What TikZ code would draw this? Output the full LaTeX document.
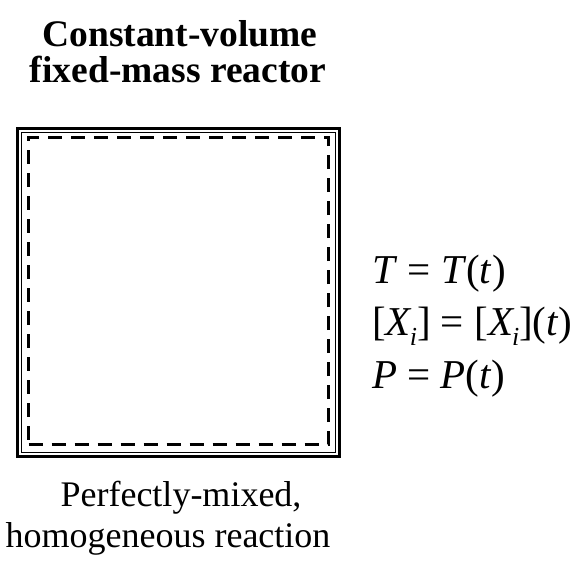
\documentclass[tikz,border=0pt]{standalone}
\usepackage{fontspec}
\setmainfont{Liberation Serif}
\begin{document}
\begin{tikzpicture}[x=1pt,y=-1pt,
  ttl/.style={inner sep=0pt,anchor=base,font=\bfseries\fontsize{37.5}{40}\selectfont},
  txt/.style={inner sep=0pt,anchor=base,font=\fontsize{36}{40}\selectfont},
  eq/.style={inner sep=0pt,anchor=base west,font=\fontsize{41}{44}\selectfont},
  wall/.style={draw,inner sep=0pt}]
\useasboundingbox (0,0) rectangle (581,563);
\node[wall,line width=3pt,minimum width=322pt,minimum height=328pt] (outer) at (178.5,292.5) {};
\node[wall,line width=1.3pt,minimum width=314pt,minimum height=320pt] (wallin) at (178.5,292.5) {};
\node[wall,line width=3pt,dash pattern=on 14pt off 9pt,minimum width=300pt,minimum height=307pt] (inner) at (178.5,290.5) {};
\node[ttl] (title1) at (180,46) {Constant-volume};
\node[ttl] (title2) at (178,82) {fixed-mass reactor};
\node[txt] (cap1) at (181,506) {Perfectly-mixed,};
\node[txt] (cap2) at (168,547) {homogeneous reaction};
\node[eq] (e1) at (372,283) {\textit{T} = \textit{T}(\textit{t})};
\node[eq] (e2) at (372,335) {[\textit{X\kern-1pt}\raisebox{-0.25em}{\fontsize{26}{26}\selectfont\textit{i}}] = [\textit{X\kern-1pt}\raisebox{-0.25em}{\fontsize{26}{26}\selectfont\textit{i}}](\textit{t})};
\node[eq] (e3) at (372,388) {\textit{P} = \textit{P}(\textit{t})};
\end{tikzpicture}
\end{document}
